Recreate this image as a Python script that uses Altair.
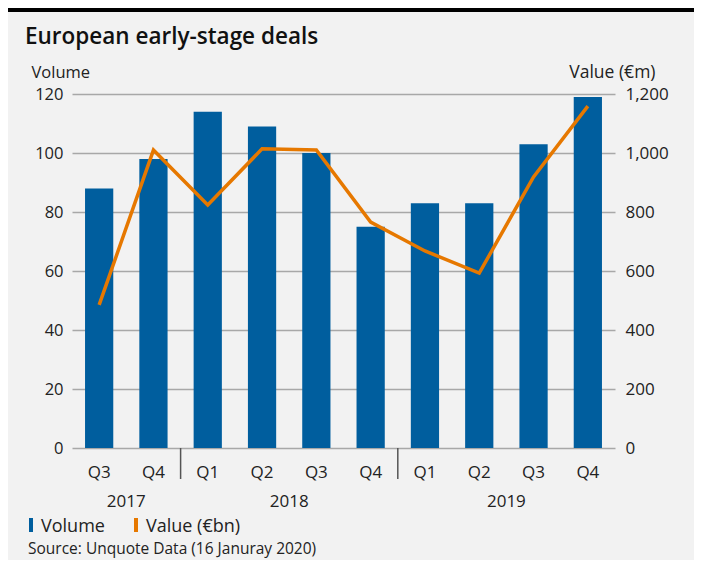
import altair as alt
import pandas as pd

# ---- data ----
cats = ["2017 Q3", "2017 Q4", "2018 Q1", "2018 Q2", "2018 Q3", "2018 Q4",
        "2019 Q1", "2019 Q2", "2019 Q3", "2019 Q4"]
quarters = ["Q3", "Q4", "Q1", "Q2", "Q3", "Q4", "Q1", "Q2", "Q3", "Q4"]
volume = [88, 98, 114, 109, 100, 75, 83, 83, 103, 119]
value_m = [485, 1010, 824, 1014, 1010, 766, 668, 593, 919, 1159]
years = ["2017", "2018", "2019"]
year_anchor = ["2017 Q3", "2018 Q2", "2019 Q2"]
separators = ["2017 Q4", "2018 Q4"]
left_ticks = [0, 20, 40, 60, 80, 100, 120]
right_ticks = [0, 200, 400, 600, 800, 1000, 1200]

title_text = "European early-stage deals"
source_text = "Source: Unquote Data (16 Januray 2020)"
legend_labels = ["Volume", "Value (€bn)"]

BLUE = "#005e9e"
ORANGE = "#e67800"
TXT = "#222222"
FONT = "Open Sans"
FS = 16.5

W, H = 543, 354
STEP = W / 10.0
GAP_HALF = STEP * 0.48 / 2  # half of the gap between two bars

df = pd.DataFrame({"cat": cats, "q": quarters, "volume": volume, "value": value_m})
df_years = pd.DataFrame({"cat": year_anchor, "year": years})
df_sep = pd.DataFrame({"cat": separators})
one = pd.DataFrame({"k": [0]})

x_scale = alt.Scale(domain=cats, paddingInner=0.48, paddingOuter=0.24)

bars = alt.Chart(df).mark_bar(color=BLUE).encode(
    x=alt.X("cat:N", scale=x_scale, title=None,
            axis=alt.Axis(labels=False, ticks=False, domain=True,
                          domainColor="#555555", domainWidth=1.5, grid=False)),
    y=alt.Y("volume:Q", scale=alt.Scale(domain=[0, 120], nice=False),
            axis=alt.Axis(values=left_ticks, title="Volume", titleAngle=0,
                          titleAlign="left", titleBaseline="alphabetic",
                          titleX=-41, titleY=-17, titleFontSize=FS,
                          titleFontWeight="normal", titleColor=TXT,
                          grid=True, gridColor="#a8a8a8", gridWidth=1.3,
                          ticks=False, domain=False, labelPadding=9,
                          labelFontSize=FS, labelColor=TXT)),
)

line = alt.Chart(df).mark_line(color=ORANGE, strokeWidth=3.5).encode(
    x=alt.X("cat:N", scale=x_scale, axis=None),
    y=alt.Y("value:Q", scale=alt.Scale(domain=[0, 1200], nice=False),
            axis=alt.Axis(orient="right", values=right_ticks, format=",d",
                          title="Value (€m)", titleAngle=0, titleAlign="right",
                          titleBaseline="alphabetic", titleX=40, titleY=-17,
                          titleFontSize=FS + 1, titleFontWeight="normal",
                          titleColor=TXT, grid=False, ticks=False, domain=False,
                          labelPadding=10, labelFontSize=FS + 0.5,
                          labelColor=TXT)),
)

q_text = alt.Chart(df).mark_text(
    fontSize=FS + 0.5, align="center", baseline="alphabetic", color=TXT,
    font=FONT
).encode(
    x=alt.X("cat:N", scale=x_scale, axis=None),
    y=alt.value(384),
    text="q:N",
)

seps = alt.Chart(df_sep).mark_rule(
    color="#555555", strokeWidth=1.5, xOffset=GAP_HALF
).encode(
    x=alt.X("cat:N", scale=x_scale, axis=None, bandPosition=1),
    y=alt.value(H),
    y2=alt.value(H + 31),
)

year_text = alt.Chart(df_years).mark_text(
    fontSize=FS + 0.5, align="center", baseline="alphabetic", color=TXT,
    font=FONT, xOffset=GAP_HALF
).encode(
    x=alt.X("cat:N", scale=x_scale, axis=None, bandPosition=1),
    y=alt.value(413),
    text="year:N",
)

top_rule = alt.Chart(one).mark_rule(color="#000000", strokeWidth=4).encode(
    x=alt.value(-64), x2=alt.value(W + 79), y=alt.value(-84)
)

title = alt.Chart(one).mark_text(
    fontSize=22.5, fontWeight=600, align="left", baseline="alphabetic",
    color="#111111", font=FONT
).encode(x=alt.value(-47), y=alt.value(-50), text=alt.value(title_text))

leg_blue = alt.Chart(one).mark_rect(color=BLUE).encode(
    x=alt.value(-43), x2=alt.value(-39), y=alt.value(424), y2=alt.value(438)
)
leg_orange = alt.Chart(one).mark_rect(color=ORANGE).encode(
    x=alt.value(62), x2=alt.value(66), y=alt.value(424), y2=alt.value(438)
)
leg_t1 = alt.Chart(one).mark_text(
    fontSize=18, align="left", baseline="alphabetic", color=TXT, font=FONT
).encode(x=alt.value(-31), y=alt.value(438), text=alt.value(legend_labels[0]))
leg_t2 = alt.Chart(one).mark_text(
    fontSize=18, align="left", baseline="alphabetic", color=TXT, font=FONT
).encode(x=alt.value(74), y=alt.value(438), text=alt.value(legend_labels[1]))

source = alt.Chart(one).mark_text(
    fontSize=15.5, align="left", baseline="alphabetic", color=TXT, font=FONT
).encode(x=alt.value(-44), y=alt.value(460), text=alt.value(source_text))

chart = alt.layer(
    bars, line, q_text, seps, year_text, top_rule, title,
    leg_blue, leg_orange, leg_t1, leg_t2, source
).resolve_scale(y="independent").properties(
    width=W, height=H,
    autosize=alt.AutoSizeParams(type="none"),
    padding={"left": 64, "top": 86, "right": 79, "bottom": 112},
    background="#f2f2f2",
).configure(font=FONT).configure_view(stroke=None)

chart.save("out.html", embed_options={"renderer": "svg", "actions": False})
